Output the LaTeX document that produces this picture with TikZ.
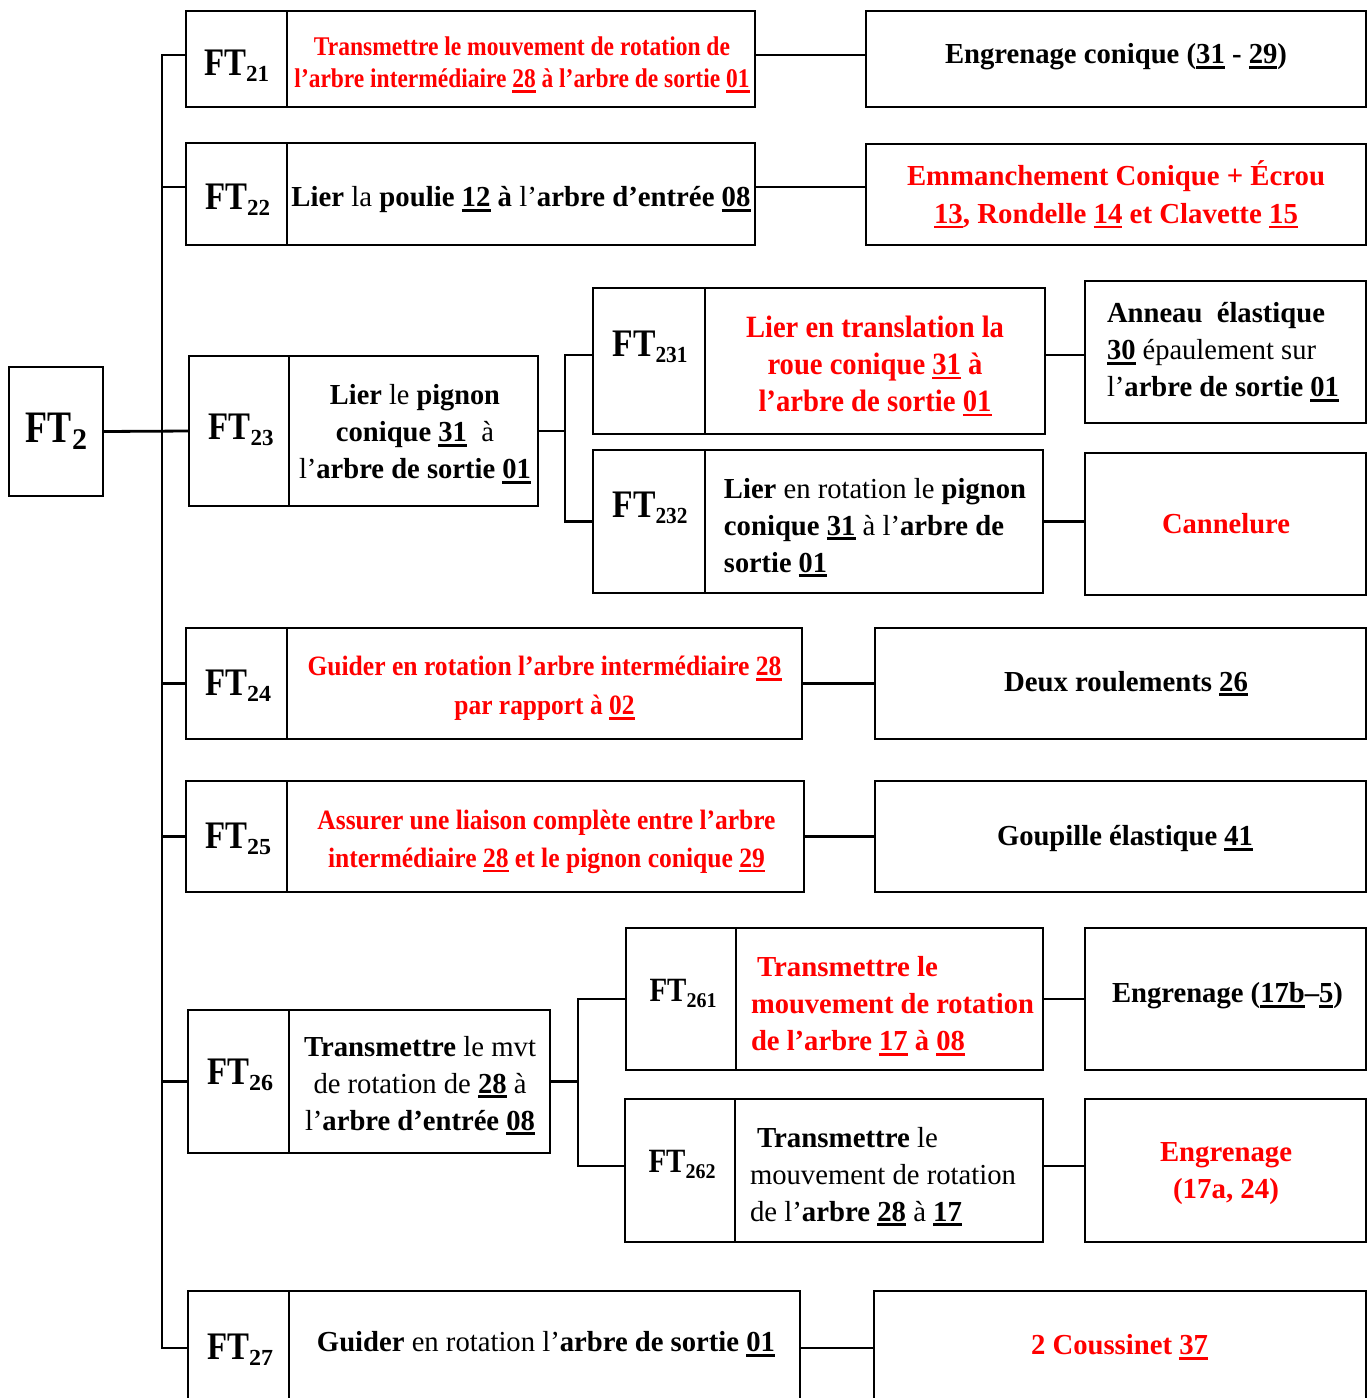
\documentclass[tikz,border=0pt]{standalone}
\usepackage{fontspec}
\setmainfont{Liberation Serif}
\usepackage{graphicx}
\newsavebox\ulbox
\newcommand\ul[1]{\sbox\ulbox{#1}\rlap{\rule[-5pt]{\wd\ulbox}{2.6pt}}\usebox\ulbox}
\newcommand\fw[2]{\resizebox{#1pt}{\height}{#2}}
\newcommand\R[1]{{\mdseries #1}}
\newcommand\FTl[5]{\fw{#1}{FT}\raisebox{#5}{\fontsize{#3}{#3}\selectfont\fw{#2}{#4}}}
\tikzset{
  cell/.style={draw, line width=2.8pt, inner sep=0pt, outer sep=0pt},
  conn/.style={line width=2.8pt},
  lab/.style={inner sep=0pt, font=\fontsize{39}{39}\selectfont\bfseries},
  txt/.style={inner sep=0pt, align=center, font=\fontsize{29}{37}\selectfont\bfseries},
  redtxt/.style={text=red}
}
\begin{document}
\begin{tikzpicture}[x=1pt,y=-1pt]
\useasboundingbox (0,0) rectangle (1370,1398);
\clip (0,0) rectangle (1370,1398);
% ---------- cells ----------
\node[cell, minimum width=94pt, minimum height=129pt] (ft2) at (56,431.5) {};
\node[cell, minimum width=101pt, minimum height=96pt] (l21) at (236.5,59) {};
\node[cell, minimum width=468pt, minimum height=96pt] (b21) at (521,59) {};
\node[cell, minimum width=500pt, minimum height=96pt] (r21) at (1116,59) {};
\node[cell, minimum width=101pt, minimum height=102pt] (l22) at (236.5,194) {};
\node[cell, minimum width=468pt, minimum height=102pt] (b22) at (521,194) {};
\node[cell, minimum width=500pt, minimum height=101pt] (r22) at (1116,194.5) {};
\node[cell, minimum width=100pt, minimum height=150pt] (l23) at (239,431) {};
\node[cell, minimum width=249pt, minimum height=150pt] (b23) at (413.5,431) {};
\node[cell, minimum width=112pt, minimum height=146pt] (l231) at (649,361) {};
\node[cell, minimum width=340pt, minimum height=146pt] (b231) at (875,361) {};
\node[cell, minimum width=281pt, minimum height=142pt] (r231) at (1225.5,352) {};
\node[cell, minimum width=112pt, minimum height=143pt] (l232) at (649,521.5) {};
\node[cell, minimum width=338pt, minimum height=143pt] (b232) at (874,521.5) {};
\node[cell, minimum width=281pt, minimum height=142pt] (r232) at (1225.5,524) {};
\node[cell, minimum width=101pt, minimum height=111pt] (l24) at (236.5,683.5) {};
\node[cell, minimum width=515pt, minimum height=111pt] (b24) at (544.5,683.5) {};
\node[cell, minimum width=491pt, minimum height=111pt] (r24) at (1120.5,683.5) {};
\node[cell, minimum width=101pt, minimum height=111pt] (l25) at (236.5,836.5) {};
\node[cell, minimum width=517pt, minimum height=111pt] (b25) at (545.5,836.5) {};
\node[cell, minimum width=491pt, minimum height=111pt] (r25) at (1120.5,836.5) {};
\node[cell, minimum width=101pt, minimum height=143pt] (l26) at (238.5,1081.5) {};
\node[cell, minimum width=261pt, minimum height=143pt] (b26) at (419.5,1081.5) {};
\node[cell, minimum width=110pt, minimum height=142pt] (l261) at (681,999) {};
\node[cell, minimum width=307pt, minimum height=142pt] (b261) at (889.5,999) {};
\node[cell, minimum width=281pt, minimum height=142pt] (r261) at (1225.5,999) {};
\node[cell, minimum width=110pt, minimum height=143pt] (l262) at (680,1170.5) {};
\node[cell, minimum width=308pt, minimum height=143pt] (b262) at (889,1170.5) {};
\node[cell, minimum width=281pt, minimum height=143pt] (r262) at (1225.5,1170.5) {};
\node[cell, minimum width=101pt, minimum height=114pt] (l27) at (238.5,1348) {};
\node[cell, minimum width=511pt, minimum height=114pt] (b27) at (544.5,1348) {};
\node[cell, minimum width=492pt, minimum height=114pt] (r27) at (1120,1348) {};
% ---------- labels ----------
\node[lab, font=\fontsize{45}{45}\selectfont\bfseries] (t2) at (56.5,431) {\FTl{46}{15}{30}{2}{-7pt}};
\node[lab] (t21) at (236.5,66) {\FTl{42}{23}{23}{21}{-6pt}};
\node[lab] (t22) at (237.5,200) {\FTl{42}{23}{23}{22}{-6pt}};
\node[lab] (t23) at (241,430) {\FTl{42}{23}{23}{23}{-6pt}};
\node[lab] (t231) at (650,347) {\FTl{43}{32}{23}{231}{-6pt}};
\node[lab] (t232) at (650,508) {\FTl{43}{32}{23}{232}{-6pt}};
\node[lab] (t24) at (238,686) {\FTl{42}{24}{23}{24}{-6pt}};
\node[lab] (t25) at (238,839) {\FTl{42}{24}{23}{25}{-6pt}};
\node[lab] (t26) at (240,1075) {\FTl{42}{24}{23}{26}{-6pt}};
\node[lab, font=\fontsize{34}{34}\selectfont\bfseries] (t261) at (683,993) {\FTl{37}{30}{21}{261}{-6pt}};
\node[lab, font=\fontsize{34}{34}\selectfont\bfseries] (t262) at (682,1164) {\FTl{37}{30}{21}{262}{-6pt}};
\node[lab] (t27) at (240,1350) {\FTl{42}{24}{23}{27}{-6pt}};
% ---------- texts ----------
\node[txt, redtxt, font=\fontsize{27}{32}\selectfont\bfseries] (x21) at (522,65)
 {\fw{416}{Transmettre le mouvement de rotation de}\\\fw{455}{l’arbre intermédiaire \ul{28} à l’arbre de sortie \ul{01}}};
\node[txt] (y21) at (1116,57) {\fw{342}{Engrenage conique (\ul{31} - \ul{29})}};
\node[txt] (x22) at (521,200) {\fw{459}{Lier \R{la} poulie \ul{12} à \R{l’}arbre d’entrée \ul{08}}};
\node[txt, redtxt, font=\fontsize{29}{38}\selectfont\bfseries] (y22) at (1116,194.5)
 {\fw{418}{Emmanchement Conique + Écrou}\\\fw{364}{\ul{13}, Rondelle \ul{14} et Clavette \ul{15}}};
\node[txt] (x23) at (415,434)
 {\fw{170}{Lier \R{le} pignon}\\\fw{158}{conique \ul{31}\R{\ \ à}}\\\fw{232}{\R{l’}arbre de sortie \ul{01}}};
\node[txt, redtxt, font=\fontsize{31}{37}\selectfont\bfseries] (x231) at (875,366)
 {\fw{258}{Lier en translation la}\\\fw{215}{roue conique \ul{31} à}\\\fw{233}{l’arbre de sortie \ul{01}}};
\node[txt, align=left] (y231) at (1223,352)
 {\fw{218}{Anneau\ \ élastique}\\\fw{209}{\ul{30} \R{épaulement sur}}\\\fw{232}{\R{l’}arbre de sortie \ul{01}}};
\node[txt, align=left] (x232) at (875,527.5)
 {\fw{302}{Lier \R{en rotation le} pignon}\\\fw{280}{conique \ul{31} \R{à l’}arbre de}\\\fw{103}{sortie \ul{01}}};
\node[txt, redtxt] (y232) at (1226,524) {\fw{128}{Cannelure}};
\node[txt, redtxt, font=\fontsize{28}{39}\selectfont\bfseries] (x24) at (544.5,688.5)
 {\fw{474}{Guider en rotation l’arbre intermédiaire \ul{28}}\\\fw{180}{par rapport à \ul{02}}};
\node[txt] (y24) at (1126,683.5) {\fw{244}{Deux roulements \ul{26}}};
\node[txt, redtxt, font=\fontsize{28}{38}\selectfont\bfseries] (x25) at (546.5,841.5)
 {\fw{458}{Assurer une liaison complète entre l’arbre}\\\fw{437}{intermédiaire \ul{28} et le pignon conique \ul{29}}};
\node[txt] (y25) at (1125,838.5) {\fw{256}{Goupille élastique \ul{41}}};
\node[txt] (x26) at (420,1085.5)
 {\fw{232}{Transmettre \R{le mvt}}\\\fw{213}{\R{de rotation de} \ul{28} \R{à}}\\\fw{230}{\R{l’}arbre d’entrée \ul{08}}};
\node[txt, redtxt, align=left] (x261) at (892.5,1006)
 {\hspace*{6pt}\fw{181}{Transmettre le}\\\fw{283}{mouvement de rotation}\\\fw{214}{de l’arbre \ul{17} à \ul{08}}};
\node[txt] (y261) at (1227.5,996) {\fw{231}{Engrenage (\ul{17b}–\ul{5})}};
\node[txt, align=left] (x262) at (883,1176.5)
 {\hspace*{7pt}\fw{181}{Transmettre \R{le}}\\\fw{266}{\R{mouvement de rotation}}\\\fw{212}{\R{de l’}arbre \ul{28} \R{à} \ul{17}}};
\node[txt, redtxt, font=\fontsize{29}{37}\selectfont\bfseries] (y262) at (1226,1173.5)
 {\fw{132}{Engrenage}\\\fw{106}{(17a, 24)}};
\node[txt] (x27) at (546,1344) {\fw{458}{Guider \R{en rotation l’}arbre de sortie \ul{01}}};
\node[txt, redtxt] (y27) at (1119.5,1347) {\fw{177}{2 Coussinet \ul{37}}};
% ---------- bus coordinates ----------
\coordinate (bus) at (162,0);
\coordinate (bus2) at (565,0);
\coordinate (bus3) at (578,0);
% main bus
\draw[conn] (ft2.east) -- (l23.west);
\draw[conn] ([yshift=4pt]l21.west) -- ([yshift=4pt]l21.west -| bus) -- (l27.west -| bus) -- (l27.west);
\draw[conn] ([yshift=7pt]l22.west) -- ([yshift=7pt]l22.west -| bus);
\draw[conn] (l24.west) -- (l24.west -| bus);
\draw[conn] (l25.west) -- (l25.west -| bus);
\draw[conn] (l26.west) -- (l26.west -| bus);
% FT23 sub-bus
\draw[conn] (b23.east) -- (b23.east -| bus2);
\draw[conn] ([yshift=6pt]l231.west) -- ([yshift=6pt]l231.west -| bus2) -- (l232.west -| bus2) -- (l232.west);
% FT26 sub-bus
\draw[conn] (b26.east) -- (b26.east -| bus3);
\draw[conn] (l261.west) -- (l261.west -| bus3) -- ([yshift=4.5pt]l262.west -| bus3) -- ([yshift=4.5pt]l262.west);
% solutions
\draw[conn] ([yshift=4pt]b21.east) -- ([yshift=4pt]b21.east -| r21.west);
\draw[conn] ([yshift=7pt]b22.east) -- ([yshift=7pt]b22.east -| r22.west);
\draw[conn] ([yshift=6pt]b231.east) -- ([yshift=6pt]b231.east -| r231.west);
\draw[conn] (b232.east) -- (b232.east -| r232.west);
\draw[conn] (b24.east) -- (r24.west);
\draw[conn] (b25.east) -- (r25.west);
\draw[conn] (b261.east) -- (r261.west);
\draw[conn] ([yshift=4.5pt]b262.east) -- ([yshift=4.5pt]b262.east -| r262.west);
\draw[conn] (b27.east) -- (r27.west);
\end{tikzpicture}
\end{document}
